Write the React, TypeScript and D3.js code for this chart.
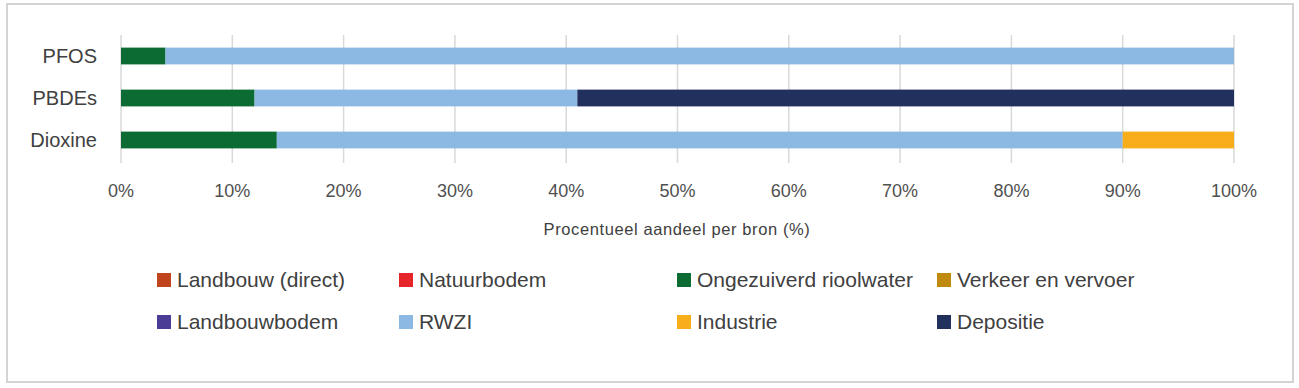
import React, { useEffect, useRef } from "react";
import * as d3 from "d3";

const categories = ["PFOS", "PBDEs", "Dioxine"];
const seriesNames = [
  "Landbouw (direct)",
  "Natuurbodem",
  "Ongezuiverd rioolwater",
  "Verkeer en vervoer",
  "Landbouwbodem",
  "RWZI",
  "Industrie",
  "Depositie",
];
const seriesColors = [
  "#c0441c",
  "#e5252a",
  "#0b6b32",
  "#bf8a10",
  "#4b3c96",
  "#8cb9e3",
  "#f8ae1a",
  "#22305e",
];
// percentages per category, same order as categories
const landbouwDirect = [0, 0, 0];
const natuurbodem = [0, 0, 0];
const ongezuiverd = [4, 12, 14];
const verkeer = [0, 0, 0];
const landbouwbodem = [0, 0, 0];
const rwzi = [96, 29, 76];
const industrie = [0, 0, 10];
const depositie = [0, 59, 0];
const seriesValues = [landbouwDirect, natuurbodem, ongezuiverd, verkeer, landbouwbodem, rwzi, industrie, depositie];
const tickValues = [0, 10, 20, 30, 40, 50, 60, 70, 80, 90, 100];

const FONT = "'Liberation Sans', Arial, sans-serif";

function App() {
  const svgRef = useRef<SVGSVGElement>(null);

  useEffect(() => {
    const svg = d3.select(svgRef.current);
    svg.selectAll("*").remove();

    // frame
    svg.append("rect")
      .attr("x", 7).attr("y", 4).attr("width", 1286).attr("height", 378)
      .attr("fill", "#fff").attr("stroke", "#d4d4d4").attr("stroke-width", 2);

    const x = d3.scaleLinear().domain([0, 100]).range([121, 1234]);
    const y = d3.scaleBand().domain(categories).range([35, 161]).paddingInner(0.6).paddingOuter(0.3);

    // grid
    svg.append("g").selectAll("line").data(tickValues).join("line")
      .attr("x1", d => x(d)).attr("x2", d => x(d))
      .attr("y1", 35).attr("y2", 163)
      .attr("stroke", "#d9d9d9").attr("stroke-width", 1.5);

    // stacked bars
    const table = categories.map((c, i) => {
      const row: Record<string, number | string> = { cat: c };
      seriesNames.forEach((s, j) => (row[s] = seriesValues[j][i]));
      return row;
    });
    const layers = d3.stack<any>().keys(seriesNames)(table);
    svg.append("g").selectAll("g").data(layers).join("g")
      .attr("fill", (_, i) => seriesColors[i])
      .selectAll("rect").data(l => l).join("rect")
      .attr("x", d => x(d[0]))
      .attr("width", d => x(d[1]) - x(d[0]))
      .attr("y", d => y(d.data.cat as string)!)
      .attr("height", y.bandwidth());

    // category labels
    svg.append("g").selectAll("text").data(categories).join("text")
      .attr("x", 97).attr("y", d => y(d)! + y.bandwidth() / 2)
      .attr("dy", "0.35em").attr("text-anchor", "end")
      .attr("font-family", FONT).attr("font-size", 20).attr("fill", "#404040")
      .text(d => d);

    // tick labels
    svg.append("g").selectAll("text").data(tickValues).join("text")
      .attr("x", d => x(d)).attr("y", 197)
      .attr("text-anchor", "middle")
      .attr("font-family", FONT).attr("font-size", 18).attr("fill", "#505050")
      .text(d => d + "%");

    svg.append("text")
      .attr("x", 677).attr("y", 235).attr("text-anchor", "middle")
      .attr("font-family", FONT).attr("font-size", 16.5).attr("letter-spacing", 0.6)
      .attr("fill", "#404040")
      .text("Procentueel aandeel per bron (%)");

    // legend
    const colX = [157, 399, 677, 937];
    const rowY = [280, 322];
    const leg = svg.append("g").selectAll("g").data(seriesNames).join("g")
      .attr("transform", (_, i) => `translate(${colX[i % 4]},${rowY[Math.floor(i / 4)]})`);
    leg.append("rect").attr("x", 0).attr("y", -7).attr("width", 14).attr("height", 14)
      .attr("fill", (_, i) => seriesColors[i]);
    leg.append("text").attr("x", 20).attr("dy", "0.35em")
      .attr("font-family", FONT).attr("font-size", 21).attr("fill", "#404040")
      .text(d => d);
  }, []);

  return (
    <div>
      <svg ref={svgRef} width={1299} height={388} style={{ position: "absolute", left: 0, top: 0 }} />
    </div>
  );
}

export default App;
